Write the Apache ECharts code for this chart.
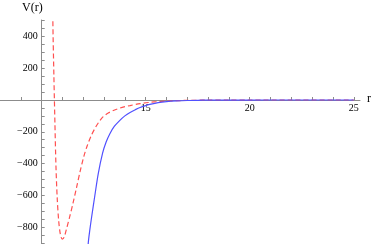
<!DOCTYPE html>
<html><head><meta charset="utf-8">
<script src="https://cdn.jsdelivr.net/npm/echarts@6/dist/echarts.min.js"></script>
<style>html,body{margin:0;padding:0;background:#fff}#c{width:374px;height:244px}</style>
</head><body><div id="c"></div>
<script>
const redR = [10.50,10.54,10.59,10.64,10.69,10.75,10.82,10.90,10.99,11.08,11.2,11.35,11.5,11.68,11.85,12.03,12.2,12.4,12.6,12.8,12.96,13.2,13.6,14.0,14.25,14.73,15.2,15.6,16,16.5,17,18,19,20,22,25];
const redV = [1100,500,150,-150,-420,-620,-760,-845,-876,-865,-810,-735,-655,-550,-450,-355,-285,-220,-170,-130,-105,-82,-58,-42,-35,-23,-15,-10,-6.5,-4,-2.3,-0.8,-0.3,-0.1,0,0];
const blueR = [12.15,12.24,12.32,12.4,12.56,12.72,12.93,13.1,13.28,13.5,13.76,14.0,14.25,14.5,14.73,15.0,15.2,15.6,16,16.5,17,17.5,18,19,20,22,25];
const blueV = [-1100,-903,-815,-740,-600,-465,-335,-265,-212,-165,-128,-100,-78,-61,-47,-35,-28,-17,-10.5,-6,-3.2,-1.8,-1,-0.3,-0.1,0,0];
const xTicks = [9,10,11,12,13,14,15,16,17,18,19,20,21,22,23,24,25];
const xLabels = [15,20,25];
const yTicks = [-900,-850,-800,-750,-700,-650,-600,-550,-500,-450,-400,-350,-300,-250,-200,-150,-100,-50,50,100,150,200,250,300,350,400,450,500];
const yLabels = [-800,-600,-400,-200,200,400];

const axisColor = '#8c8c8c';
const font = "'Liberation Serif', 'Times New Roman', serif";
const fmt = v => (v < 0 ? '\u2212' + Math.abs(v) : String(v));
const chart = echarts.init(document.getElementById('c'));
chart.setOption({
  animation:false,
  grid:[
    {left:0, top:20, width:360, height:224, containLabel:false, outerBoundsMode:'none'},
    {left:0, top:20, width:360, height:80, containLabel:false, outerBoundsMode:'none'}
  ],
  graphic:[
    {type:'text', left:22, top:2, style:{text:'V(r)', fontFamily:font, fontSize:12, fill:'#000'}},
    {type:'text', left:367, top:93, style:{text:'r', fontFamily:font, fontSize:12, fill:'#000'}}
  ],
  xAxis:[{
    gridIndex:0, type:'value', min:8, max:25.3, splitLine:{show:false},
    axisLine:{onZero:true, lineStyle:{color:axisColor, width:1}},
    axisTick:{show:true, inside:true, length:3, customValues:xTicks, lineStyle:{color:axisColor}},
    axisLabel:{show:false}
  },{
    gridIndex:1, type:'value', min:8, max:25.3, splitLine:{show:false}, position:'bottom',
    axisLine:{show:false, onZero:false}, axisTick:{show:false},
    axisLabel:{customValues:xLabels, formatter:fmt, margin:3, color:'#000', fontFamily:font, fontSize:10}
  }],
  yAxis:[{
    gridIndex:0, type:'value', min:-907, max:504, splitLine:{show:false}, position:'left', offset:-41.7,
    axisLine:{show:true, onZero:false, lineStyle:{color:axisColor, width:1}},
    axisTick:{show:true, inside:true, length:3, customValues:yTicks, lineStyle:{color:axisColor}},
    axisLabel:{customValues:yLabels, formatter:fmt, margin:4, color:'#000', fontFamily:font, fontSize:10}
  },{
    gridIndex:1, type:'value', min:0, max:504, show:false, splitLine:{show:false}
  }],
  series:[
    {type:'line', xAxisIndex:0, yAxisIndex:0, data:redR.map((r,i)=>[r,redV[i]]), smooth:0.3, showSymbol:false, symbol:'none', clip:true,
     lineStyle:{color:'#ff5050', width:1.2, type:[5,3]}},
    {type:'line', xAxisIndex:0, yAxisIndex:0, data:blueR.map((r,i)=>[r,blueV[i]]), smooth:0.3, showSymbol:false, symbol:'none', clip:true,
     lineStyle:{color:'#5050ff', width:1.2}}
  ]
});
</script></body></html>
